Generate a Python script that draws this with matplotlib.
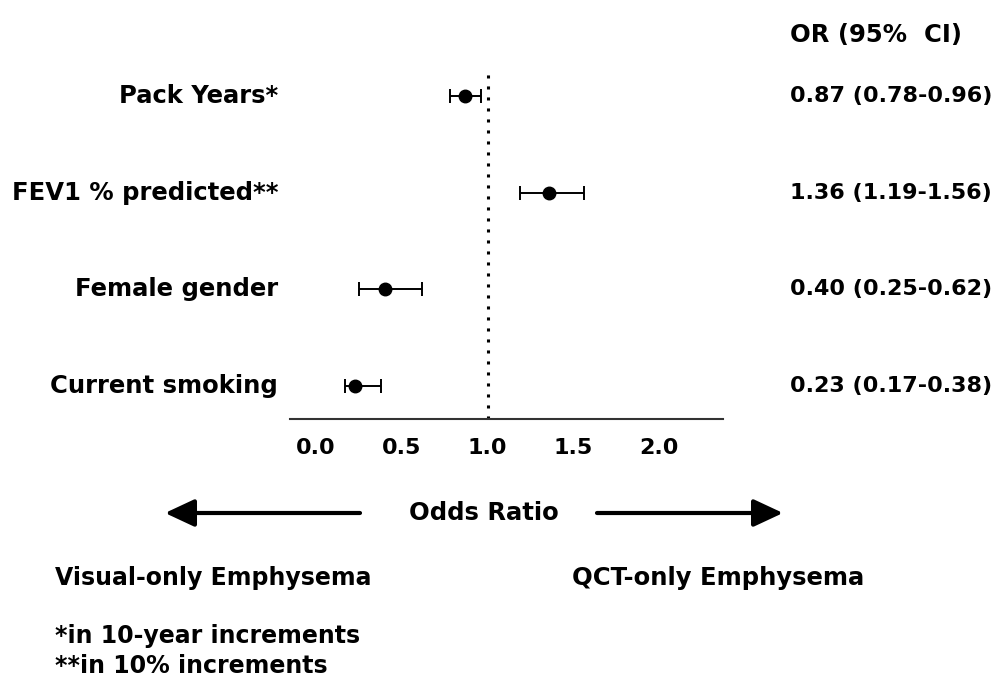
import matplotlib
matplotlib.use("Agg")
import matplotlib.pyplot as plt
from matplotlib.patches import FancyArrowPatch

labels = ["Pack Years*", "FEV1 % predicted**", "Female gender", "Current smoking"]
odds = [0.87, 1.36, 0.40, 0.23]
lower = [0.78, 1.19, 0.25, 0.17]
upper = [0.96, 1.56, 0.62, 0.38]
or_text = ["0.87 (0.78-0.96)", "1.36 (1.19-1.56)", "0.40 (0.25-0.62)", "0.23 (0.17-0.38)"]
xticks = [0.0, 0.5, 1.0, 1.5, 2.0]
xticklabels = ["0.0", "0.5", "1.0", "1.5", "2.0"]

plt.rcParams['font.family'] = ['DejaVu Sans']
plt.rcParams['font.weight'] = 'bold'

W, H = 997, 689
fig = plt.figure(figsize=(W / 100, H / 100), dpi=100)
fig.patch.set_facecolor('white')

def fx(px):
    return px / W

def fy(py):
    return 1 - py / H

ax = fig.add_axes([fx(290), fy(419), fx(723) - fx(290), fy(68) - fy(419)])
ax.set_xlim(-0.15, 2.37)
ax.set_ylim(3.34, -0.29)

ys = list(range(len(labels)))
xerr = [[o - l for o, l in zip(odds, lower)], [u - o for o, u in zip(odds, upper)]]
ax.errorbar(odds, ys, xerr=xerr, fmt='o', color='black', ecolor='black',
            markersize=9, elinewidth=1.4, capsize=5, capthick=1.4, zorder=3)
ax.axvline(1.0, color='black', linestyle=(0, (1, 2.6)), linewidth=2.2, zorder=1)

for s in ['top', 'right', 'left']:
    ax.spines[s].set_visible(False)
ax.spines['bottom'].set_color('#333333')
ax.spines['bottom'].set_linewidth(1.5)
ax.set_yticks([])
ax.set_xticks(xticks)
fs = 17.5
fs_num = 16
fs_small = 17
ax.set_xticklabels(xticklabels, fontsize=fs_num, fontweight='bold')
ax.tick_params(axis='x', length=0, pad=14)

for y, lab, t in zip(ys, labels, or_text):
    ax.annotate(lab, xy=(0, y), xycoords=('axes fraction', 'data'), xytext=(-12, 0),
                textcoords='offset pixels', ha='right', va='center', fontsize=fs, fontweight='bold')
    ax.annotate(t, xy=(fx(790), y), xycoords=('figure fraction', 'data'),
                ha='left', va='center', fontsize=fs_num, fontweight='bold')

fig.text(fx(790), fy(35), "OR (95%  CI)", ha='left', va='center', fontsize=fs, fontweight='bold')
fig.text(fx(484), fy(513), "Odds Ratio", ha='center', va='center', fontsize=fs, fontweight='bold')

arrow_kw = dict(arrowstyle='-|>,head_length=0.9,head_width=0.42', color='black', lw=3.0,
                shrinkA=0, shrinkB=0)
fig.add_artist(FancyArrowPatch((fx(360), fy(513)), (fx(165), fy(513)),
               transform=fig.transFigure, mutation_scale=20, **arrow_kw))
fig.add_artist(FancyArrowPatch((fx(597), fy(513)), (fx(783), fy(513)),
               transform=fig.transFigure, mutation_scale=20, **arrow_kw))

fig.text(fx(55), fy(578), "Visual-only Emphysema", ha='left', va='center', fontsize=fs_small, fontweight='bold')
fig.text(fx(572), fy(578), "QCT-only Emphysema", ha='left', va='center', fontsize=fs, fontweight='bold')
fig.text(fx(55), fy(636), "*in 10-year increments", ha='left', va='center', fontsize=fs_small, fontweight='bold')
fig.text(fx(55), fy(666), "**in 10% increments", ha='left', va='center', fontsize=fs_small, fontweight='bold')

fig.savefig("out.png", dpi=100, facecolor='white')
